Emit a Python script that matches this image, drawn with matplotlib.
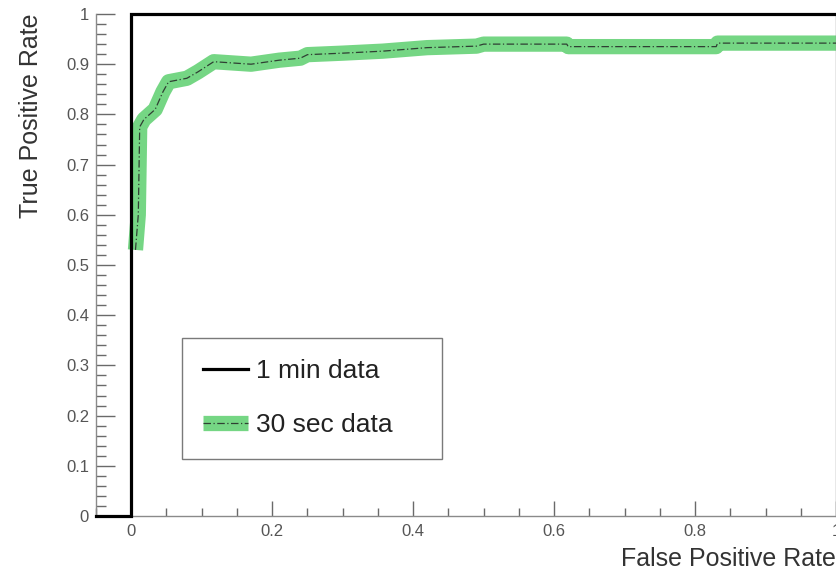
import matplotlib.pyplot as plt
from matplotlib.ticker import MultipleLocator, FormatStrFormatter

# ROC curves
fpr_1min = [-0.05, 0.0, 0.0, 1.0]
tpr_1min = [0.0, 0.0, 1.0, 1.0]

fpr_30s = [0.006, 0.010, 0.012, 0.018, 0.034, 0.045, 0.053, 0.079, 0.095, 0.117,
           0.17, 0.21, 0.24, 0.25, 0.30, 0.357, 0.42, 0.49, 0.50, 0.618, 0.62,
           0.83, 0.832, 1.0]
tpr_30s = [0.53, 0.60, 0.775, 0.79, 0.81, 0.845, 0.865, 0.872, 0.885, 0.905,
           0.90, 0.908, 0.912, 0.919, 0.922, 0.926, 0.933, 0.936, 0.940, 0.940,
           0.935, 0.935, 0.942, 0.942]

labels = ["1 min data", "30 sec data"]

plt.rcParams['font.family'] = ['Liberation Sans', 'DejaVu Sans']

fig = plt.figure(figsize=(8.37, 5.70), dpi=100)
ax = fig.add_axes([96 / 837, 1 - 516 / 570, 740 / 837, 502 / 570])

black, = ax.plot(fpr_1min, tpr_1min, color="black", lw=2.3, solid_joinstyle="miter",
                 clip_on=False, zorder=4)
band, = ax.plot(fpr_30s, tpr_30s, color="#66d277", lw=11, alpha=0.9,
                solid_capstyle="butt", solid_joinstyle="round", zorder=2)
dash, = ax.plot(fpr_30s, tpr_30s, color="#2f3f33", lw=0.9,
                ls=(0, (6, 2, 1, 2)), zorder=3)

ax.set_xlim(-0.05, 1.0)
ax.set_ylim(0.0, 1.0)

ax.spines["top"].set_visible(False)
for side in ("left", "bottom", "right"):
    ax.spines[side].set_color("#8a8a8a")
    ax.spines[side].set_linewidth(1.0)

ax.xaxis.set_major_locator(MultipleLocator(0.2))
ax.xaxis.set_minor_locator(MultipleLocator(0.05))
ax.yaxis.set_major_locator(MultipleLocator(0.1))
ax.yaxis.set_minor_locator(MultipleLocator(0.02))
ax.xaxis.set_major_formatter(FormatStrFormatter("%g"))
ax.yaxis.set_major_formatter(FormatStrFormatter("%g"))

ax.tick_params(axis="x", which="major", direction="in", length=11, width=1,
               color="#6a6a6a", labelsize=12, labelcolor="#555555", pad=6)
ax.tick_params(axis="x", which="minor", direction="in", length=5.5, width=1,
               color="#6a6a6a")
ax.tick_params(axis="y", which="major", direction="in", length=14, width=1,
               color="#6a6a6a", labelsize=12, labelcolor="#555555", pad=5)
ax.tick_params(axis="y", which="minor", direction="in", length=7, width=1,
               color="#6a6a6a")
ax.tick_params(top=False, right=False, which="both")

# legend box spans x 182..442 px, top at 338 px in the reference
leg = ax.legend([black, (band, dash)], labels, loc="upper left",
                bbox_to_anchor=((182 - 96) / 740, (516 - 338) / 502 - 0.01,
                                260 / 740, 0.01),
                mode="expand", borderaxespad=0, fontsize=19, frameon=True,
                fancybox=False, edgecolor="#7a7a7a", handlelength=1.7,
                handletextpad=0.3, labelspacing=1.15, borderpad=0.8, framealpha=1)
leg.get_frame().set_linewidth(1.0)
for t in leg.get_texts():
    t.set_color("#222222")

fig.text(31 / 837, 1 - 13 / 570, "True Positive Rate", rotation=90, ha="center",
         va="top", fontsize=18, color="#333333")
fig.text(836 / 837, 4 / 570, "False Positive Rate", ha="right", va="baseline",
         fontsize=18, color="#333333")

fig.savefig("out.png", dpi=100)
